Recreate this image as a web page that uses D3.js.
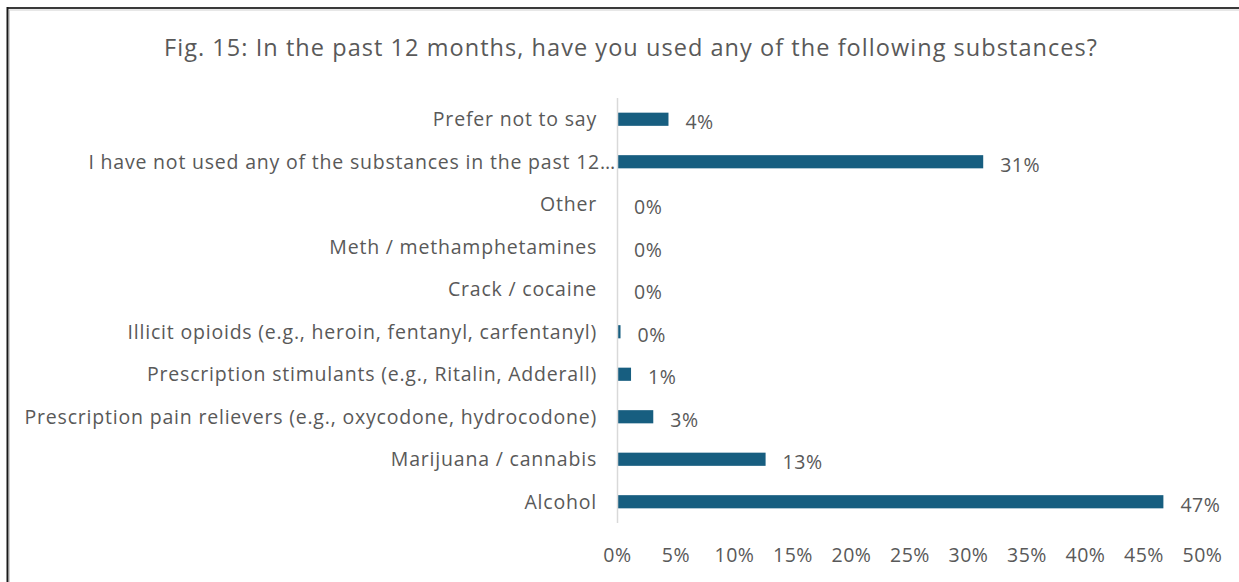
<!DOCTYPE html>
<html>
<head>
<meta charset="utf-8">
<script src="https://cdn.jsdelivr.net/npm/d3@7"></script>
<style>
  html, body { margin: 0; padding: 0; background: #fff; }
  svg { display: block; }
  text { font-family: "Open Sans", "Noto Sans", sans-serif; }
</style>
</head>
<body>
<svg id="chart" width="1239" height="582"></svg>
<script>
// Survey responses, top row first
const categories = [
  "Prefer not to say",
  "I have not used any of the substances in the past 12…",
  "Other",
  "Meth / methamphetamines",
  "Crack / cocaine",
  "Illicit opioids (e.g., heroin, fentanyl, carfentanyl)",
  "Prescription stimulants (e.g., Ritalin, Adderall)",
  "Prescription pain relievers (e.g., oxycodone, hydrocodone)",
  "Marijuana / cannabis",
  "Alcohol"
];
const shares = [0.044, 0.313, 0, 0, 0, 0.003, 0.012, 0.031, 0.127, 0.467];
const tickValues = [0, 0.05, 0.10, 0.15, 0.20, 0.25, 0.30, 0.35, 0.40, 0.45, 0.50];
const title = "Fig. 15: In the past 12 months, have you used any of the following substances?";

const svg = d3.select("#chart");
const W = 1239, H = 582;
const plot = { left: 617, right: 1202, top: 98, bottom: 523 };

const textColor = "#595959";
const barColor = "#175e80";

// Frame edges (top and left)
svg.append("line").attr("x1", 7).attr("x2", W).attr("y1", 8).attr("y2", 8)
  .attr("stroke", "#3a3a3a").attr("stroke-width", 2);
svg.append("line").attr("x1", 7.5).attr("x2", 7.5).attr("y1", 7).attr("y2", H)
  .attr("stroke", "#1a1a1a").attr("stroke-width", 2);
svg.append("line").attr("x1", 9).attr("x2", W).attr("y1", 10).attr("y2", 10)
  .attr("stroke", "#d0d0d0").attr("stroke-width", 1);
svg.append("line").attr("x1", 9.5).attr("x2", 9.5).attr("y1", 10).attr("y2", H)
  .attr("stroke", "#d0d0d0").attr("stroke-width", 1);

// Title
svg.append("text")
  .attr("x", 631).attr("y", 56)
  .attr("text-anchor", "middle")
  .attr("font-size", 23.5)
  .attr("letter-spacing", 1.05)
  .attr("fill", textColor)
  .text(title);

const x = d3.scaleLinear().domain([0, 0.5]).range([plot.left, plot.right]);
const y = d3.scaleBand().domain(categories).range([plot.top, plot.bottom])
  .paddingInner(0.69).paddingOuter(0.345);

// Bars
svg.append("g").selectAll("rect")
  .data(categories)
  .join("rect")
  .attr("x", x(0))
  .attr("y", d => y(d))
  .attr("width", (d, i) => x(shares[i]) - x(0))
  .attr("height", y.bandwidth())
  .attr("fill", barColor);

// Category axis line
svg.append("line")
  .attr("x1", x(0) + 0.5).attr("x2", x(0) + 0.5)
  .attr("y1", plot.top).attr("y2", plot.bottom)
  .attr("stroke", "#d9d9d9").attr("stroke-width", 1.5);

// Category labels
const yAxis = d3.axisLeft(y).tickSize(0).tickPadding(20);
const gy = svg.append("g").attr("transform", `translate(${x(0)},0)`).call(yAxis);
gy.select(".domain").remove();
gy.selectAll("text")
  .attr("font-size", 19.5)
  .attr("letter-spacing", 0.8)
  .attr("fill", textColor)
  .attr("font-family", null)
  .attr("dy", "0.36em")
  .attr("dx", d => d.endsWith("…") ? 19 : 0);

// Value labels
const fmt = d3.format(".0%");
svg.append("g").selectAll("text")
  .data(categories)
  .join("text")
  .attr("x", (d, i) => x(shares[i]) + 17)
  .attr("y", d => y(d) + y.bandwidth() / 2 + 3)
  .attr("dy", "0.36em")
  .attr("font-size", 19.5)
  .attr("letter-spacing", 0.5)
  .attr("fill", textColor)
  .text((d, i) => fmt(shares[i]));

// Value axis
const xAxis = d3.axisBottom(x).tickValues(tickValues).tickFormat(d3.format(".0%"))
  .tickSize(0).tickPadding(0);
const gx = svg.append("g").attr("transform", `translate(0,548)`).call(xAxis);
gx.select(".domain").remove();
gx.selectAll("text")
  .attr("font-size", 19.5)
  .attr("letter-spacing", 0.5)
  .attr("fill", textColor)
  .attr("font-family", null)
  .attr("dy", "0.71em");
</script>
</body>
</html>
